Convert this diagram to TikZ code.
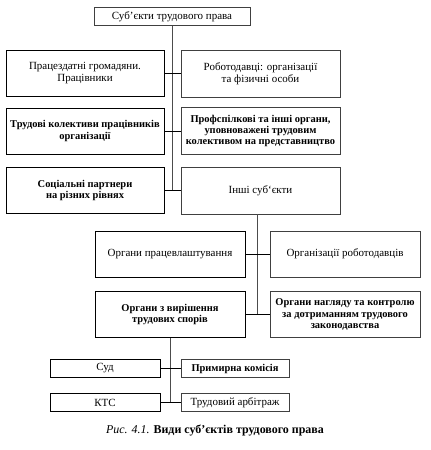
\documentclass[tikz,border=0pt]{standalone}
\usepackage{fontspec}
\setmainfont{Liberation Serif}
\begin{document}
\begin{tikzpicture}[x=1bp,y=-1bp,
  every node/.style={font=\fontsize{11}{12}\selectfont, align=center, inner sep=1pt},
  bf/.style={font=\fontsize{10.5}{11.5}\selectfont\bfseries},
  thickbox/.style={draw=black, line width=0.9pt},
  thinbox/.style={draw=black!75, line width=0.6pt},
  bigL/.style={thickbox, minimum width=158bp, minimum height=46bp},
  bigR/.style={thinbox, minimum width=159bp, minimum height=47bp},
  midL/.style={thickbox, minimum width=150bp, minimum height=46bp},
  midR/.style={thinbox, minimum width=150bp, minimum height=46bp},
  smL/.style={thickbox, minimum width=110bp, minimum height=18bp},
  smR/.style={thinbox, minimum width=108bp, minimum height=18bp},
  trunk/.style={draw=black!70, line width=0.6pt},
  link/.style={draw=black, line width=0.8pt}
]
\useasboundingbox (0,0) rectangle (430,450);
\node[thinbox, minimum width=156bp, minimum height=18bp] (top) at (172,16.5) {Суб'єкти трудового права};
\node[bigL] (p1L) at (85,73.5) {Працездатні громадяни.\\Працівники};
\node[bigR] (p1R) at (260.5,73.5) {Роботодавці: організації\\та фізичні особи};
\node[bigL, bf] (p2L) at (85,131) {Трудові колективи працівників\\організації};
\node[bigR, bf] (p2R) at (260.5,131) {Профспілкові та інші органи,\\уповноважені трудовим\\колективом на представництво};
\node[bigL, bf] (p3L) at (85,190.5) {Соціальні партнери\\на різних рівнях};
\node[bigR] (p3R) at (260.5,190.5) {Інші суб`єкти};
\node[midL] (p4L) at (170,254) {Органи працевлаштування};
\node[midR] (p4R) at (345,254) {Організації роботодавців};
\node[midL, bf] (p5L) at (170,314.5) {Органи з вирішення\\трудових спорів};
\node[midR, bf] (p5R) at (345,314.5) {Органи нагляду та контролю\\за дотриманням трудового\\законодавства};
\node[smL] (p6L) at (105,368.5) {Суд};
\node[smR, bf] (p6R) at (235,368.5) {Примирна комісія};
\node[smL] (p7L) at (105,402.5) {КТС};
\node[smR] (p7R) at (235,402.5) {Трудовий арбітраж};
\node[font=\fontsize{12}{13}\selectfont] (cap) at (215,431) {\textit{Рис. 4.1.} \textbf{Види суб’єктів трудового права}};
% connectors
\draw[trunk] (top.south) -- (top.south |- p3L.east);
\draw[link] (p1L.east) -- (p1R.west);
\draw[link] (p2L.east) -- (p2R.west);
\draw[link] (p3L.east) -- (p3R.west);
\draw[trunk] ([xshift=-3.5bp]p3R.south) -- ([xshift=-3.5bp]p3R.south |- p5L.east);
\draw[link] (p4L.east) -- (p4R.west);
\draw[link] (p5L.east) -- (p5R.west);
\draw[trunk] (p5L.south) -- (p5L.south |- p7L.east);
\draw[link] (p6L.east) -- (p6R.west);
\draw[link] (p7L.east) -- (p7R.west);
\end{tikzpicture}
\end{document}
